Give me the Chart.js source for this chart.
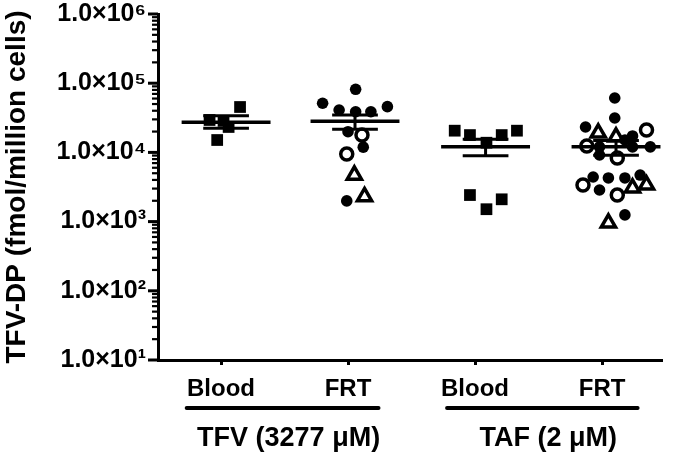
<!DOCTYPE html>
<html>
<head>
<meta charset="utf-8">
<script src="https://cdn.jsdelivr.net/npm/chart.js@4.4.1/dist/chart.umd.min.js"></script>
<style>
  html, body { margin: 0; padding: 0; background: #fff; }
  canvas { display: block; }
</style>
</head>
<body>
<canvas id="tfvChart" width="685" height="456"></canvas>
<script>
// DATA (TFV-DP, fmol/million cells)
const categories = ['Blood', 'FRT', 'Blood', 'FRT'];
const treatments = ['TFV (3277 \u03BCM)', 'TAF (2 \u03BCM)'];
const yTicks = [1e1, 1e2, 1e3, 1e4, 1e5, 1e6];

// x jitter is in category units around each category (1..4)
const tfvBlood = [45300, 29400, 28500, 23300, 15100];
const tfvBloodX = [0.15, -0.09, 0.02, 0.06, -0.03];

const tfvFrtFilled = [81700, 51300, 45800, 41000, 38700, 38700, 19900, 11900, 1990];
const tfvFrtFilledX = [0.06, -0.2, 0.31, -0.07, 0.06, 0.18, 0, 0.12, -0.01];
const tfvFrtOpen = [17800, 9500];
const tfvFrtOpenX = [0.11, -0.01];
const tfvFrtTri = [4710, 2290];
const tfvFrtTriX = [0.05, 0.13];

const tafBlood = [20600, 17800, 17800, 20600, 13800, 2420, 2100, 1510];
const tafBloodX = [-0.16, -0.04, 0.21, 0.33, 0.09, -0.04, 0.21, 0.09];

const tafFrtFilled = [61100, 31400, 23300, 15100, 17300, 12000, 12000, 12000, 9170, 4410, 2860, 4270, 4270, 4710, 1250];
const tafFrtFilledX = [0.1, 0.1, -0.13, 0.18, 0.24, -0.02, 0.24, 0.38, -0.02, -0.07, -0.02, 0.05, 0.18, 0.3, 0.18];
const tafFrtOpen = [21100, 12400, 8300, 3380, 2420];
const tafFrtOpenX = [0.35, -0.12, 0.12, -0.15, 0.12];
const tafFrtTri = [19100, 16700, 3060, 3380, 955];
const tafFrtTriX = [-0.03, 0.11, 0.24, 0.35, 0.05];

// mean and SEM per category
const means = [27200, 28100, 12100, 12100];
const semLow = [22300, 21600, 8950, 9100];
const semHigh = [33900, 34600, 15500, 14800];
const meanX = [0.04, 0.055, 0.083, 0.11];

const FONT = "'Liberation Sans', Arial, Helvetica, sans-serif";
const SUP = ['\u2070', '\u00B9', '\u00B2', '\u00B3', '\u2074', '\u2075', '\u2076', '\u2077', '\u2078', '\u2079'];

function pts(cat, ys, xs) {
  return ys.map((y, i) => ({ x: cat + xs[i], y: y }));
}

function seg(x1, x2, y1, y2, w) {
  return {
    type: 'line', showLine: true, pointRadius: 0, borderColor: '#000',
    borderWidth: w, borderCapStyle: 'butt', fill: false,
    data: [{ x: x1, y: y1 }, { x: x2, y: y2 }]
  };
}

// mean and SEM marks (listed first so they draw on top)
let statSets = [];
means.forEach((m, i) => {
  let c = i + 1 + meanX[i];
  statSets.push(seg(c - 0.35, c + 0.35, m, m, 3.5));
  statSets.push(seg(c, c, semLow[i], semHigh[i], 3));
  statSets.push(seg(c - 0.18, c + 0.18, semLow[i], semLow[i], 3));
  statSets.push(seg(c - 0.18, c + 0.18, semHigh[i], semHigh[i], 3));
});

const filled = { pointBackgroundColor: '#000', pointBorderColor: '#000', pointBorderWidth: 0 };
const square = Object.assign({ pointStyle: 'rect', pointRadius: 8.3 }, filled);
const dot = Object.assign({ pointStyle: 'circle', pointRadius: 5.8 }, filled);
const ring = { pointStyle: 'circle', pointRadius: 6, pointBackgroundColor: 'rgba(0,0,0,0)', pointBorderColor: '#000', pointBorderWidth: 3.5 };
const tri = { pointStyle: 'triangle', pointRadius: 8.2, pointBackgroundColor: 'rgba(0,0,0,0)', pointBorderColor: '#000', pointBorderWidth: 3.5 };

const pointSets = [
  Object.assign({ data: pts(1, tfvBlood, tfvBloodX) }, square),
  Object.assign({ data: pts(2, tfvFrtFilled, tfvFrtFilledX) }, dot),
  Object.assign({ data: pts(2, tfvFrtOpen, tfvFrtOpenX) }, ring),
  Object.assign({ data: pts(2, tfvFrtTri, tfvFrtTriX) }, tri),
  Object.assign({ data: pts(3, tafBlood, tafBloodX) }, square),
  Object.assign({ data: pts(4, tafFrtFilled, tafFrtFilledX) }, dot),
  Object.assign({ data: pts(4, tafFrtOpen, tafFrtOpenX) }, ring),
  Object.assign({ data: pts(4, tafFrtTri, tafFrtTriX) }, tri)
];

// minor log ticks on the y axis, treatment brackets and labels under the x axis
const extras = {
  id: 'extras',
  afterDraw(chart) {
    const ctx = chart.ctx, y = chart.scales.y, x = chart.scales.x;
    const left = chart.chartArea.left, bottom = chart.chartArea.bottom;
    ctx.save();
    ctx.strokeStyle = '#000';
    for (let e = 1; e <= 6; e++) {
      let v = Math.pow(10, e);
      let py = y.getPixelForValue(v);
      ctx.lineWidth = 3;
      ctx.beginPath(); ctx.moveTo(left - 10, py); ctx.lineTo(left, py); ctx.stroke();
      if (e < 6) {
        ctx.lineWidth = 2.2;
        for (let k = 2; k <= 9; k++) {
          let my = y.getPixelForValue(k * v);
          ctx.beginPath(); ctx.moveTo(left - 6, my); ctx.lineTo(left, my); ctx.stroke();
        }
      }
    }
    const spans = [[0.73, 2.24], [2.78, 4.28]];
    ctx.lineWidth = 4;
    ctx.lineCap = 'round';
    ctx.fillStyle = '#000';
    ctx.font = 'bold 27px ' + FONT;
    ctx.textAlign = 'center';
    ctx.textBaseline = 'middle';
    spans.forEach((s, i) => {
      let x1 = x.getPixelForValue(s[0]), x2 = x.getPixelForValue(s[1]);
      ctx.beginPath(); ctx.moveTo(x1, bottom + 48); ctx.lineTo(x2, bottom + 48); ctx.stroke();
      ctx.fillText(treatments[i], (x1 + x2) / 2 + 6, bottom + 79);
    });
    ctx.restore();
  }
};

Chart.defaults.color = '#000';
Chart.defaults.font.family = FONT;

let tfvChart = new Chart(document.getElementById('tfvChart').getContext('2d'), {
  type: 'scatter',
  data: { datasets: statSets.concat(pointSets) },
  options: {
    responsive: false,
    animation: false,
    layout: { padding: { top: 14, right: 23, bottom: 0, left: 0 } },
    plugins: { legend: { display: false }, tooltip: { enabled: false } },
    scales: {
      x: {
        type: 'linear',
        min: 0.504,
        max: 4.472,
        afterFit: (s) => { s.height = 96; s.paddingLeft = 0; s.paddingRight = 0; },
        afterBuildTicks: (s) => { s.ticks = categories.map((c, i) => ({ value: i + 1 })); },
        border: { color: '#000', width: 3 },
        grid: { drawOnChartArea: false, drawTicks: true, tickLength: 5, tickWidth: 3, tickColor: '#000' },
        ticks: {
          padding: 10,
          font: { size: 24, weight: 'bold' },
          color: '#000',
          maxRotation: 0,
          callback: (v) => categories[Math.round(v) - 1]
        }
      },
      y: {
        type: 'logarithmic',
        min: 10,
        max: 1e6,
        afterFit: (s) => { s.width = 158; s.paddingTop = 0; s.paddingBottom = 0; },
        afterBuildTicks: (s) => { s.ticks = yTicks.map(v => ({ value: v, major: true })); },
        border: { color: '#000', width: 3 },
        grid: { drawOnChartArea: false, drawTicks: false },
        ticks: {
          padding: 12,
          font: { size: 25, weight: 'bold' },
          color: '#000',
          callback: (v) => '1.0\u00D710' + SUP[Math.round(Math.log10(v))]
        },
        title: {
          display: true,
          text: 'TFV-DP (fmol/million cells)',
          font: { size: 28, weight: 'bold' },
          color: '#000',
          padding: { top: 0, bottom: 0 }
        }
      }
    }
  },
  plugins: [extras]
});
</script>
</body>
</html>
